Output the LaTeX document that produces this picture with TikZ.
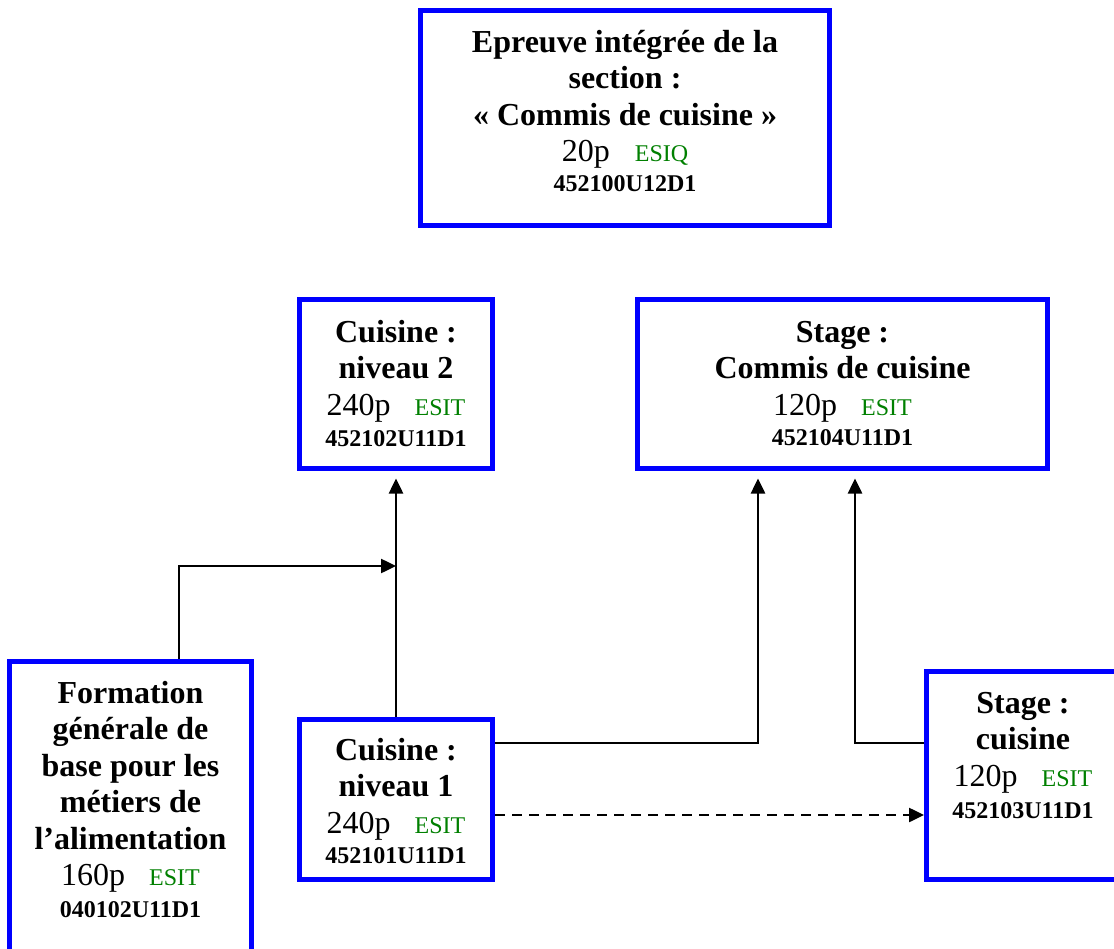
\documentclass[tikz,border=0pt]{standalone}
\usepackage{fontspec}
\setmainfont{Liberation Serif}
\usetikzlibrary{arrows.meta}
\definecolor{boxblue}{RGB}{0,0,255}
\definecolor{esitgreen}{RGB}{0,128,0}
\newcommand{\esitfont}{\fontsize{24}{36.5}\selectfont\color{esitgreen}}
\newcommand{\cdfont}{\fontsize{24}{36.5}\selectfont\bfseries}
\newcommand{\firstline}{\rule{0pt}{26pt}}
\begin{document}
\begin{tikzpicture}[x=1pt,y=-1pt,
  box/.style={draw=boxblue, line width=5pt, rectangle, inner sep=0pt, fill=white},
  txt/.style={anchor=north, inner sep=0pt, align=center, font=\fontsize{32}{36.5}\selectfont},
  conn/.style={line width=2.5pt, -{Triangle[length=15pt,width=14pt]}},
  dashconn/.style={conn, dash pattern=on 10pt off 7pt}]
\useasboundingbox (0,0) rectangle (1114,949);
\clip (0,0) rectangle (1114,949);
\fill[white] (0,0) rectangle (1114,949);
% boxes
\node[box, minimum width=409pt, minimum height=215pt] (top) at (625,118) {};
\node[box, minimum width=193pt, minimum height=169pt] (n2) at (396,384) {};
\node[box, minimum width=410pt, minimum height=169pt] (sc) at (842.5,384) {};
\node[box, minimum width=242pt, minimum height=346pt] (form) at (130.5,834.5) {};
\node[box, minimum width=193pt, minimum height=160pt] (n1) at (396,799.5) {};
\node[box, minimum width=193pt, minimum height=208pt] (st) at (1023,775.5) {};
% texts
\node[txt] (ttop) at (625,26) {\firstline\textbf{Epreuve intégrée de la}\\\textbf{section :}\\\textbf{« Commis de cuisine »}\\20p\hspace{25pt}{\esitfont ESIQ}\\[-7pt]{\cdfont 452100U12D1}};
\node[txt] (tn2) at (396,316) {\firstline\textbf{Cuisine :}\\\textbf{niveau 2}\\240p\hspace{24pt}{\esitfont ESIT}\\[-5pt]{\cdfont 452102U11D1}};
\node[txt] (tsc) at (842.5,316) {\firstline\textbf{Stage :}\\\textbf{Commis de cuisine}\\120p\hspace{24pt}{\esitfont ESIT}\\[-6pt]{\cdfont 452104U11D1}};
\node[txt] (tform) at (130.5,677) {\firstline\textbf{Formation}\\\textbf{générale de}\\\textbf{base pour les}\\\textbf{métiers de}\\\textbf{l’alimentation}\\160p\hspace{24pt}{\esitfont ESIT}\\[-5pt]{\cdfont 040102U11D1}};
\node[txt] (tn1) at (396,734) {\firstline\textbf{Cuisine :}\\\textbf{niveau 1}\\240p\hspace{24pt}{\esitfont ESIT}\\[-6pt]{\cdfont 452101U11D1}};
\node[txt] (tst) at (1023,687) {\firstline\textbf{Stage :}\\\textbf{cuisine}\\120p\hspace{24pt}{\esitfont ESIT}\\[-4pt]{\cdfont 452103U11D1}};
% junction coordinates
\coordinate (f1) at (179,566);
\coordinate (j1) at (758,743);
\coordinate (j2) at (855,743);
\coordinate (d1) at (0,815);
% connectors
\draw[conn] (f1 |- form.north) -- (f1) -- (n1.north |- f1);
\draw[conn, shorten >=7.5pt] (n1.north) -- (n2.south);
\draw[conn, shorten >=7.5pt] (n1.east |- j1) -| (j1 |- sc.south);
\draw[conn, shorten >=7.5pt] (st.west |- j2) -| (j2 |- sc.south);
\draw[dashconn] (n1.east |- d1) -- (st.west |- d1);
\end{tikzpicture}
\end{document}
